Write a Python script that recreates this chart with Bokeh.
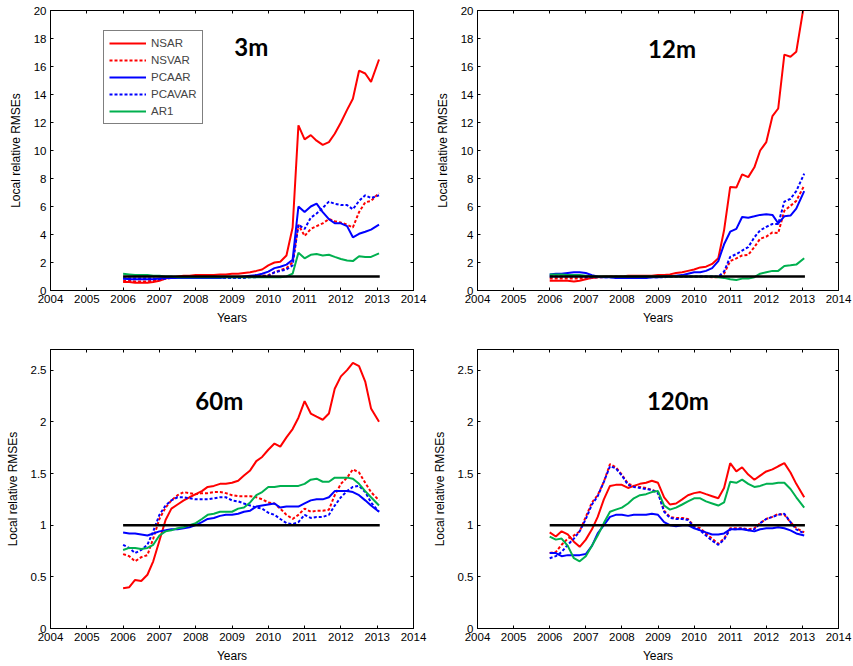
from bokeh.plotting import figure
from bokeh.models import (Range1d, FixedTicker, LinearAxis, Legend, LegendItem,
                          Label, CustomJSTickFormatter)
from bokeh.layouts import gridplot
from bokeh.embed import file_html
from bokeh.resources import INLINE

# ---------------- data ----------------
YEARS = [2006.00, 2006.17, 2006.33, 2006.50, 2006.67, 2006.83,
         2007.00, 2007.17, 2007.33, 2007.50, 2007.67, 2007.83,
         2008.00, 2008.17, 2008.33, 2008.50, 2008.67, 2008.83,
         2009.00, 2009.17, 2009.33, 2009.50, 2009.67, 2009.83,
         2010.00, 2010.17, 2010.33, 2010.50, 2010.67, 2010.83,
         2011.00, 2011.17, 2011.33, 2011.50, 2011.67, 2011.83,
         2012.00, 2012.17, 2012.33, 2012.50, 2012.67, 2012.83,
         2013.05]

REF_X = [2006.0, 2013.07]
REF_Y = [1.0, 1.0]

X_TICKS = [2004, 2005, 2006, 2007, 2008, 2009, 2010, 2011, 2012, 2013, 2014]
Y_TICKS_TOP = [0, 2, 4, 6, 8, 10, 12, 14, 16, 18, 20]
Y_TICKS_BOTTOM = [0, 0.5, 1, 1.5, 2, 2.5]

SERIES_NAMES = ["NSAR", "NSVAR", "PCAAR", "PCAVAR", "AR1"]
PANEL_NAMES = ["3m", "12m", "60m", "120m"]

# 3 months horizon
M3_NSAR = [0.6, 0.6, 0.55, 0.55, 0.55, 0.6,
           0.7, 0.85, 0.95, 1.0, 1.05, 1.05,
           1.1, 1.1, 1.1, 1.1, 1.15, 1.15,
           1.2, 1.2, 1.25, 1.3, 1.4, 1.5,
           1.8, 2.0, 2.05, 2.5, 4.5, 11.8,
           10.8, 11.1, 10.7, 10.4, 10.6, 11.2,
           12.0, 12.9, 13.7, 15.7, 15.5, 14.9, 16.5]
M3_NSVAR = [0.7, 0.7, 0.65, 0.65, 0.65, 0.7,
            0.75, 0.85, 0.9, 0.95, 0.95, 0.95,
            0.95, 0.95, 0.95, 0.95, 0.95, 0.95,
            0.95, 0.95, 0.95, 1.0, 1.0, 1.05,
            1.1, 1.3, 1.45, 1.6, 2.0, 4.7,
            3.9, 4.4, 4.6, 4.8, 5.1, 4.95,
            4.85, 4.7, 4.5, 5.6, 6.3, 6.4, 6.95]
M3_PCAAR = [0.85, 0.8, 0.8, 0.8, 0.8, 0.8,
            0.85, 0.9, 0.9, 0.9, 0.9, 0.9,
            0.9, 0.9, 0.9, 0.9, 0.9, 0.95,
            0.95, 0.95, 1.0, 1.05, 1.1, 1.2,
            1.35, 1.6, 1.7, 1.85, 2.2, 6.0,
            5.6, 6.0, 6.2, 5.6, 5.1, 4.8,
            4.8, 4.6, 3.8, 4.05, 4.2, 4.35, 4.7]
M3_PCAVAR = [0.85, 0.85, 0.85, 0.85, 0.85, 0.85,
             0.8, 0.85, 0.9, 0.9, 0.9, 0.9,
             0.9, 0.9, 0.9, 0.9, 0.9, 0.9,
             0.9, 0.9, 0.9, 0.95, 0.95, 1.0,
             1.05, 1.3, 1.4, 1.5, 1.8, 4.7,
             4.4, 5.2, 5.5, 5.9, 6.35, 6.2,
             6.1, 6.1, 5.8, 6.4, 6.8, 6.6, 6.8]
M3_AR1 = [1.2, 1.15, 1.1, 1.1, 1.1, 1.05,
          1.05, 1.0, 1.0, 0.95, 0.95, 0.95,
          0.95, 0.95, 0.95, 0.95, 0.95, 0.95,
          0.95, 0.95, 0.95, 0.95, 0.95, 0.95,
          0.95, 0.95, 0.95, 1.0, 1.2, 2.7,
          2.3, 2.55, 2.6, 2.5, 2.55, 2.4,
          2.25, 2.15, 2.1, 2.45, 2.4, 2.4, 2.65]

# 12 months horizon
M12_NSAR = [0.7, 0.7, 0.7, 0.7, 0.65, 0.7,
            0.8, 0.9, 0.95, 1.0, 1.0, 1.0,
            1.0, 1.05, 1.05, 1.05, 1.05, 1.05,
            1.1, 1.1, 1.15, 1.25, 1.3, 1.4,
            1.5, 1.65, 1.7, 1.9, 2.3, 4.3,
            7.4, 7.35, 8.3, 8.1, 8.8, 10.0,
            10.6, 12.45, 13.0, 16.85, 16.7, 17.05, 20.5]
M12_NSVAR = [0.85, 0.85, 0.85, 0.85, 0.85, 0.85,
             0.85, 0.9, 0.95, 0.95, 1.0, 1.0,
             1.0, 1.0, 1.0, 1.0, 1.0, 1.0,
             1.0, 1.0, 1.0, 1.0, 1.0, 1.0,
             1.0, 1.0, 1.0, 0.95, 0.95, 1.2,
             2.1, 2.3, 2.5, 2.55, 3.1, 3.7,
             3.85, 4.15, 4.1, 5.7, 6.05, 6.4, 7.5]
M12_PCAAR = [1.15, 1.2, 1.2, 1.25, 1.3, 1.3,
             1.25, 1.1, 1.0, 0.95, 0.95, 0.9,
             0.9, 0.9, 0.9, 0.9, 0.9, 0.95,
             0.95, 1.0, 1.0, 1.05, 1.1, 1.2,
             1.3, 1.3, 1.4, 1.6, 2.1, 3.3,
             4.2, 4.4, 5.25, 5.2, 5.3, 5.4,
             5.45, 5.4, 4.8, 5.3, 5.35, 5.85, 7.1]
M12_PCAVAR = [1.0, 1.0, 1.0, 1.0, 1.0, 1.0,
              0.95, 0.95, 0.95, 0.95, 0.95, 0.95,
              0.95, 0.95, 0.95, 0.95, 0.95, 0.95,
              0.95, 0.95, 1.0, 1.0, 1.0, 1.0,
              1.0, 1.0, 1.0, 1.0, 1.0, 1.35,
              2.4, 2.6, 2.85, 3.1, 3.8, 4.3,
              4.55, 4.75, 4.75, 6.35, 6.55, 7.1, 8.35]
M12_AR1 = [1.15, 1.15, 1.15, 1.1, 1.1, 1.1,
           1.05, 1.0, 1.0, 1.0, 1.0, 1.0,
           1.0, 1.0, 1.0, 1.0, 1.0, 1.0,
           1.0, 1.0, 1.0, 1.0, 1.0, 1.0,
           1.0, 1.0, 1.0, 1.0, 0.95, 0.9,
           0.8, 0.75, 0.85, 0.85, 0.95, 1.2,
           1.3, 1.4, 1.4, 1.75, 1.8, 1.85, 2.3]

# 60 months horizon
M60_NSAR = [0.39, 0.4, 0.47, 0.46, 0.52, 0.65,
            0.85, 1.05, 1.16, 1.2, 1.24, 1.27,
            1.3, 1.33, 1.37, 1.38, 1.4, 1.4,
            1.41, 1.43, 1.48, 1.53, 1.62, 1.66,
            1.73, 1.79, 1.76, 1.85, 1.93, 2.04,
            2.2, 2.08, 2.05, 2.02, 2.08, 2.32,
            2.44, 2.5, 2.57, 2.54, 2.39, 2.13, 2.0]
M60_NSVAR = [0.72, 0.7, 0.65, 0.69, 0.71, 0.87,
             1.06, 1.17, 1.24, 1.29, 1.32, 1.31,
             1.3, 1.31, 1.31, 1.32, 1.32, 1.31,
             1.29, 1.28, 1.28, 1.28, 1.27, 1.25,
             1.22, 1.21, 1.16, 1.1, 1.06, 1.1,
             1.16, 1.13, 1.14, 1.14, 1.15, 1.29,
             1.4, 1.46, 1.54, 1.51, 1.41, 1.32, 1.24]
M60_PCAAR = [0.93, 0.92, 0.92, 0.91, 0.9, 0.92,
             0.94, 0.95, 0.96, 0.96, 0.97, 0.98,
             1.0, 1.03, 1.06, 1.07, 1.09, 1.1,
             1.1, 1.11, 1.13, 1.14, 1.18, 1.19,
             1.2, 1.21, 1.17, 1.18, 1.18, 1.18,
             1.21, 1.24, 1.25, 1.25, 1.27, 1.33,
             1.33, 1.33, 1.32, 1.29, 1.24, 1.19, 1.13]
M60_PCAVAR = [0.81, 0.78, 0.73, 0.76, 0.81, 0.94,
              1.1, 1.19, 1.24, 1.27, 1.27, 1.26,
              1.25, 1.25, 1.25, 1.26, 1.27, 1.27,
              1.24, 1.23, 1.21, 1.19, 1.17, 1.16,
              1.12, 1.1, 1.06, 1.02, 1.01, 1.03,
              1.1, 1.07, 1.08, 1.08, 1.1, 1.19,
              1.27, 1.33, 1.37, 1.38, 1.32, 1.22, 1.13]
M60_AR1 = [0.76, 0.78, 0.78, 0.77, 0.78, 0.81,
           0.9, 0.94, 0.95, 0.97, 0.98, 1.0,
           1.02, 1.06, 1.1, 1.11, 1.13, 1.13,
           1.13, 1.16, 1.17, 1.22, 1.29, 1.32,
           1.37, 1.37, 1.38, 1.38, 1.38, 1.38,
           1.4, 1.44, 1.45, 1.42, 1.42, 1.46,
           1.46, 1.46, 1.45, 1.4, 1.33, 1.27, 1.19]

# 120 months horizon
M120_NSAR = [0.93, 0.89, 0.94, 0.91, 0.84, 0.79,
             0.86, 0.96, 1.08, 1.25, 1.38, 1.39,
             1.39, 1.36, 1.38, 1.4, 1.41, 1.43,
             1.41, 1.27, 1.2, 1.21, 1.25, 1.29,
             1.31, 1.32, 1.3, 1.28, 1.26, 1.36,
             1.6, 1.52, 1.56, 1.49, 1.44, 1.48,
             1.52, 1.54, 1.57, 1.6, 1.51, 1.4, 1.27]
M120_NSVAR = [0.73, 0.74, 0.81, 0.87, 0.9, 0.94,
              1.08, 1.22, 1.29, 1.42, 1.59, 1.56,
              1.49, 1.4, 1.38, 1.37, 1.36, 1.34,
              1.32, 1.14, 1.08, 1.07, 1.07, 1.06,
              0.99, 0.97, 0.92, 0.87, 0.82, 0.87,
              0.97, 0.97, 0.97, 0.96, 0.97, 1.02,
              1.06, 1.08, 1.11, 1.1, 1.03, 0.97, 0.93]
M120_PCAAR = [0.73, 0.73, 0.7, 0.71, 0.71, 0.71,
              0.72, 0.8, 0.92, 1.0, 1.08, 1.1,
              1.1, 1.09, 1.1, 1.1, 1.1, 1.11,
              1.1, 1.03, 1.0, 0.99, 1.0, 1.0,
              0.97, 0.95, 0.93, 0.91, 0.91, 0.92,
              0.96, 0.96, 0.96, 0.95, 0.94, 0.96,
              0.97, 0.97, 0.98, 0.97, 0.95, 0.92, 0.9]
M120_PCAVAR = [0.68, 0.7, 0.74, 0.81, 0.87, 0.94,
               1.06, 1.2, 1.28, 1.42, 1.57, 1.55,
               1.48, 1.39, 1.37, 1.36, 1.35, 1.34,
               1.31, 1.13, 1.07, 1.06, 1.06, 1.05,
               0.98, 0.95, 0.9, 0.85, 0.81, 0.86,
               0.96, 0.96, 0.97, 0.95, 0.96, 1.02,
               1.06, 1.08, 1.1, 1.11, 1.03, 0.96, 0.92]
M120_AR1 = [0.89, 0.86, 0.87, 0.8, 0.68, 0.65,
            0.7, 0.8, 0.9, 1.02, 1.13, 1.15,
            1.17, 1.21, 1.26, 1.29, 1.3, 1.32,
            1.33, 1.19, 1.15, 1.17, 1.2, 1.23,
            1.26, 1.26, 1.23, 1.21, 1.19, 1.22,
            1.42, 1.41, 1.44, 1.4, 1.37, 1.38,
            1.4, 1.4, 1.41, 1.41, 1.35, 1.27, 1.17]

# ---------------- styling ----------------
RED = "#FF0000"
BLUE = "#0000FF"
GREEN = "#00B04F"
STYLES = [(RED, "solid"), (RED, "3 2"), (BLUE, "solid"), (BLUE, "3 2"), (GREEN, "solid")]
FONT = "Liberation Sans"


def make_panel(name, series, ymax, yticks, borders, size, title_xy, legend=False):
    left, right, top, bottom = borders
    p = figure(width=size[0], height=size[1],
               x_range=Range1d(2004, 2014), y_range=Range1d(0, ymax),
               output_backend="svg", toolbar_location=None,
               min_border_left=left, min_border_right=right,
               min_border_top=top, min_border_bottom=bottom)
    p.xgrid.visible = False
    p.ygrid.visible = False
    p.outline_line_color = "black"
    p.outline_line_width = 1
    p.background_fill_color = "white"
    p.border_fill_color = "white"

    renderers = []
    for vals, (col, dash) in zip(series, STYLES):
        r = p.line(YEARS, vals, line_color=col, line_width=2, line_dash=dash)
        renderers.append(r)
    p.line(REF_X, REF_Y, line_color="black", line_width=2.5)

    for ax in (p.xaxis[0], p.yaxis[0]):
        ax.major_tick_in = 3
        ax.major_tick_out = 0
        ax.minor_tick_line_color = None
        ax.axis_line_color = "black"
        ax.major_tick_line_color = "black"
        ax.major_label_text_font = FONT
        ax.major_label_text_font_size = "11.5px"
        ax.major_label_text_color = "black"
        ax.axis_label_text_font = FONT
        ax.axis_label_text_font_size = "12px"
        ax.axis_label_text_font_style = "normal"
        ax.axis_label_text_color = "black"
    p.xaxis[0].ticker = FixedTicker(ticks=X_TICKS)
    p.yaxis[0].ticker = FixedTicker(ticks=yticks)
    p.yaxis[0].formatter = CustomJSTickFormatter(code="return String(tick);")
    p.xaxis[0].formatter = CustomJSTickFormatter(code="return String(tick);")
    p.xaxis[0].axis_label = "Years"
    p.yaxis[0].axis_label = "Local relative RMSEs"
    p.xaxis[0].major_label_standoff = 4
    p.xaxis[0].axis_label_standoff = 5
    p.yaxis[0].major_label_standoff = 4
    p.yaxis[0].axis_label_standoff = 8

    # mirrored ticks (top / right), no labels
    top_ax = LinearAxis(ticker=FixedTicker(ticks=X_TICKS))
    right_ax = LinearAxis(ticker=FixedTicker(ticks=yticks))
    for ax in (top_ax, right_ax):
        ax.major_tick_in = 3
        ax.major_tick_out = 0
        ax.minor_tick_line_color = None
        ax.major_label_text_font_size = "0px"
        ax.major_label_standoff = 0
        ax.formatter = CustomJSTickFormatter(code="return '';")
        ax.axis_line_color = "black"
    p.add_layout(top_ax, "above")
    p.add_layout(right_ax, "right")

    p.add_layout(Label(x=title_xy[0], y=title_xy[1], text=name,
                       text_font="Lato", text_font_style="bold",
                       text_font_size="24px", text_align="center",
                       text_baseline="middle", text_color="black"))

    if legend:
        items = [LegendItem(label=n, renderers=[r]) for n, r in zip(SERIES_NAMES, renderers)]
        lg = Legend(items=items, location=(53, 166),
                    label_text_font=FONT, label_text_font_size="11.5px",
                    glyph_width=37, glyph_height=14, label_height=14,
                    label_standoff=5, spacing=3, padding=5, margin=0,
                    border_line_color="black", border_line_width=1.5,
                    background_fill_color="white", background_fill_alpha=1)
        p.add_layout(lg)
    return p


p1 = make_panel(PANEL_NAMES[0], [M3_NSAR, M3_NSVAR, M3_PCAAR, M3_PCAVAR, M3_AR1],
                20, Y_TICKS_TOP, (50, 15, 10, 36), (428, 327), (2009.53, 17.45), legend=True)
p2 = make_panel(PANEL_NAMES[1], [M12_NSAR, M12_NSVAR, M12_PCAAR, M12_PCAVAR, M12_AR1],
                20, Y_TICKS_TOP, (49, 15, 10, 36), (425, 327), (2009.39, 17.3))
p3 = make_panel(PANEL_NAMES[2], [M60_NSAR, M60_NSVAR, M60_PCAAR, M60_PCAVAR, M60_AR1],
                2.7, Y_TICKS_BOTTOM, (50, 15, 22, 34), (428, 338), (2008.65, 2.21))
p4 = make_panel(PANEL_NAMES[3], [M120_NSAR, M120_NSVAR, M120_PCAAR, M120_PCAVAR, M120_AR1],
                2.7, Y_TICKS_BOTTOM, (49, 15, 22, 34), (425, 338), (2009.55, 2.21))

grid = gridplot([[p1, p2], [p3, p4]], toolbar_location=None)

open("out.html", "w").write(file_html(grid, INLINE))
